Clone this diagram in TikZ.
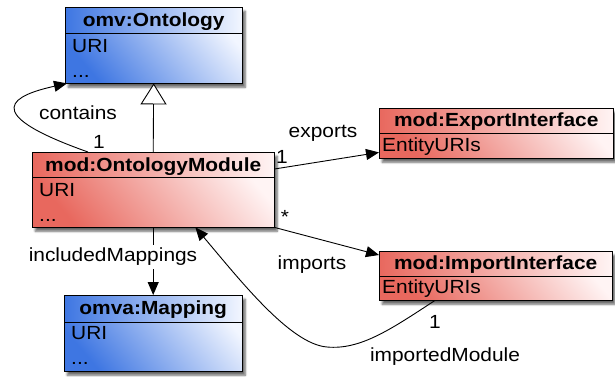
\documentclass[tikz,border=0pt]{standalone}
\usepackage{fontspec}
\setmainfont{Liberation Sans}[FakeStretch=1.1]
\usetikzlibrary{arrows.meta,shadows.blur}

\definecolor{redc}{RGB}{232,104,94}
\definecolor{redl}{RGB}{255,244,244}
\definecolor{bluec}{RGB}{62,118,226}
\definecolor{bluel}{RGB}{242,246,255}

\tikzset{
  umltext/.style={font=\fontsize{19}{21}\selectfont, inner sep=0pt},
  umltitle/.style={umltext, font=\fontsize{19}{21}\selectfont\bfseries, anchor=base},
  umlattr/.style={umltext, anchor=base west},
  lbl/.style={umltext},
  classbox/.style={rectangle, inner sep=0pt, anchor=north west,
    blur shadow={shadow xshift=3pt, shadow yshift=-4pt, shadow blur steps=8, shadow opacity=60}},
  redbody/.style={classbox, shading=axis, top color=redl, bottom color=redc, shading angle=-50},
  bluebody/.style={classbox, shading=axis, top color=bluel, bottom color=bluec, shading angle=-50},
  edge/.style={draw=black, line width=0.9pt},
  arr/.style={edge, -{Triangle[length=13pt,width=11pt]}},
  gen/.style={edge, -{Triangle[open,length=21pt,width=26pt,fill=white]}},
}

% class box: name, x, y, width, height, title height, body style, dark colour, light colour
\newcommand\classshape[9]{%
  \node[#7, minimum width=#4pt, minimum height=#5pt] (#1) at (#2,#3) {};
  \shade[left color=#8, right color=#9]
    (#1.north west) rectangle ([yshift=-#6pt]#1.north east);
  \draw[line width=0.9pt] (#1.north west) rectangle (#1.south east);
  \draw[line width=0.9pt] ([yshift=-#6pt]#1.north west) -- ([yshift=-#6pt]#1.north east);
}

\begin{document}
\begin{tikzpicture}[x=1pt,y=-1pt]
\useasboundingbox (0,0) rectangle (615,376);

% classes
\classshape{ont}{65}{7}{177}{76}{26}{bluebody}{bluec}{bluel}
\node[umltitle] at ([yshift=-19pt]ont.north) {omv:Ontology};
\node[umlattr] at ([xshift=7pt,yshift=-45pt]ont.north west) {URI};
\node[umlattr] at ([xshift=7pt,yshift=-70.5pt]ont.north west) {...};

\classshape{mod}{32}{152}{242}{75}{25}{redbody}{redc}{redl}
\node[umltitle] at ([yshift=-19pt]mod.north) {mod:OntologyModule};
\node[umlattr] at ([xshift=7pt,yshift=-44pt]mod.north west) {URI};
\node[umlattr] at ([xshift=7pt,yshift=-69pt]mod.north west) {...};

\classshape{map}{64}{295}{178}{76}{27}{bluebody}{bluec}{bluel}
\node[umltitle] at ([yshift=-19pt]map.north) {omva:Mapping};
\node[umlattr] at ([xshift=7pt,yshift=-44pt]map.north west) {URI};
\node[umlattr] at ([xshift=7pt,yshift=-69pt]map.north west) {...};

\classshape{exp}{379}{108}{234}{50}{25}{redbody}{redc}{redl}
\node[umltitle] at ([yshift=-18pt]exp.north) {mod:ExportInterface};
\node[umlattr] at ([xshift=3pt,yshift=-43.5pt]exp.north west) {EntityURIs};

\classshape{imp}{379}{251}{233}{49}{25}{redbody}{redc}{redl}
\node[umltitle] at ([yshift=-18pt]imp.north) {mod:ImportInterface};
\node[umlattr] at ([xshift=3pt,yshift=-42pt]imp.north west) {EntityURIs};

% generalization
\draw[gen] (mod.north) -- (ont.south);

% contains
\draw[arr] ([xshift=56pt]mod.north west)
  .. controls (-25,112) and (15,95) .. ([xshift=2pt]ont.south west);
\node[lbl] (lcontains) at (78,113) {contains};
\node[lbl] (mcontains) at (99,142) {1};

% exports
\draw[arr] ([yshift=-17pt]mod.north east) -- ([yshift=6pt]exp.south west);
\node[lbl] (lexports) at (323,133) {exports};
\node[lbl] (mexports) at (282,157) {1};

% imports
\draw[arr] (mod.south east) -- ([yshift=-4pt]imp.north west);
\node[lbl] (limports) at (312,265) {imports};
\node[lbl] (mimports) at (285,217) {*};

% importedModule
\draw[arr] ([xshift=56pt]imp.south west)
  .. controls (390,330) and (360,350) .. (327,347)
  .. controls (290,344) and (240,280) .. ([xshift=-79pt]mod.south east);
\node[lbl] (limported) at (445,357) {importedModule};
\node[lbl] (mimported) at (435,322) {1};

% includedMappings
\draw[arr] (mod.south) -- (map.north);
\node[lbl, fill=white, inner ysep=3pt, inner xsep=1pt] (lincluded) at (113,257) {includedMappings};

\end{tikzpicture}
\end{document}
